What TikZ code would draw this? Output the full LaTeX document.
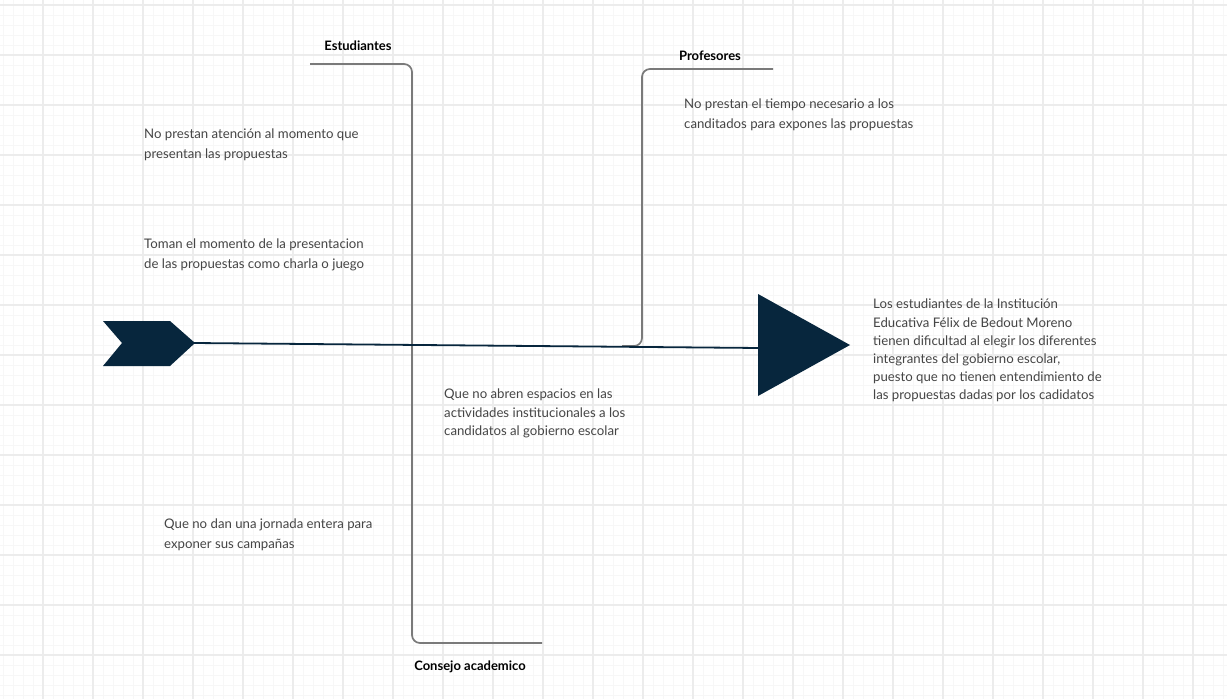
\documentclass[tikz,border=0pt]{standalone}
\usepackage{fontspec}
\setmainfont{Lato}
\definecolor{navy}{HTML}{07263D}
\definecolor{branch}{HTML}{7A7A7A}
\definecolor{txt}{HTML}{454545}
\definecolor{gridminor}{HTML}{F7F7F7}
\definecolor{gridmajor}{HTML}{ECECEC}
\begin{document}
\begin{tikzpicture}[x=1pt,y=-1pt,
  branchline/.style={draw=branch,line width=1.7pt,rounded corners=8pt},
  spineline/.style={draw=navy,line width=1.8pt},
  title/.style={font=\fontsize{13}{15}\selectfont\bfseries,text=black,inner sep=0pt},
  cause/.style={font=\fontsize{13.2}{19.5}\selectfont,text=txt,align=left,anchor=north west,inner sep=0pt},
]
\useasboundingbox (0,0) rectangle (1227,699);
\fill[white] (0,0) rectangle (1227,699);
% grid
\foreach \x in {3,13,...,1223} \draw[gridminor,line width=0.7pt] (\x,0) -- (\x,699);
\foreach \y in {5,15,...,695} \draw[gridminor,line width=0.7pt] (0,\y) -- (1227,\y);
\foreach \x in {43,93,...,1223} \draw[gridmajor,line width=1.1pt] (\x,0) -- (\x,699);
\foreach \y in {5,55,...,695} \draw[gridmajor,line width=1.1pt] (0,\y) -- (1227,\y);
% head and tail shapes
\fill[navy] (103,321) -- (170,321) -- (195,343) -- (170,366) -- (103,366) -- (122,343) -- cycle;
\fill[navy] (758,294) -- (850,345) -- (758,396) -- cycle;
\coordinate (spineA) at (194,343);
\coordinate (spineB) at (760,348);
% branches
\coordinate (estA) at (310,64);
\coordinate (estB) at (412,64);
\coordinate (estC) at (412,643);
\coordinate (estD) at (542,643);
\draw[branchline] (estA) -- (estB) -- (estC) -- (estD);
\coordinate (profA) at (773,69);
\coordinate (profB) at (642,69);
\coordinate (profC) at (642,346);
\coordinate (profD) at (622,346);
\draw[branchline] (profA) -- (profB) -- (profC) -- (profD);
\draw[spineline] (spineA) -- (spineB);
% titles
\node[title] (est) at (358,46) {Estudiantes};
\node[title] (prof) at (710,56) {Profesores};
\node[title] (cons) at (470,666.5) {Consejo academico};
% causes
\node[cause] (c1) at (144,129) {No prestan atención al momento que\\presentan las propuestas};
\node[cause] (c2) at (144,239) {Toman el momento de la presentacion\\de las propuestas como charla o juego};
\node[cause] (c3) at (684,99) {No prestan el tiempo necesario a los\\canditados para expones las propuestas};
\node[cause,font=\fontsize{13.2}{18.5}\selectfont] (c4) at (444,389) {Que no abren espacios en las\\actividades institucionales a los\\candidatos al gobierno escolar};
\node[cause] (c5) at (164,519) {Que no dan una jornada entera para\\exponer sus campañas};
\node[cause,font=\fontsize{13.2}{18.2}\selectfont] (eff) at (873,299) {Los estudiantes de la Institución\\Educativa Félix de Bedout Moreno\\tienen dificultad al elegir los diferentes\\integrantes del gobierno escolar,\\puesto que no tienen entendimiento de\\las propuestas dadas por los cadidatos};
\end{tikzpicture}
\end{document}
